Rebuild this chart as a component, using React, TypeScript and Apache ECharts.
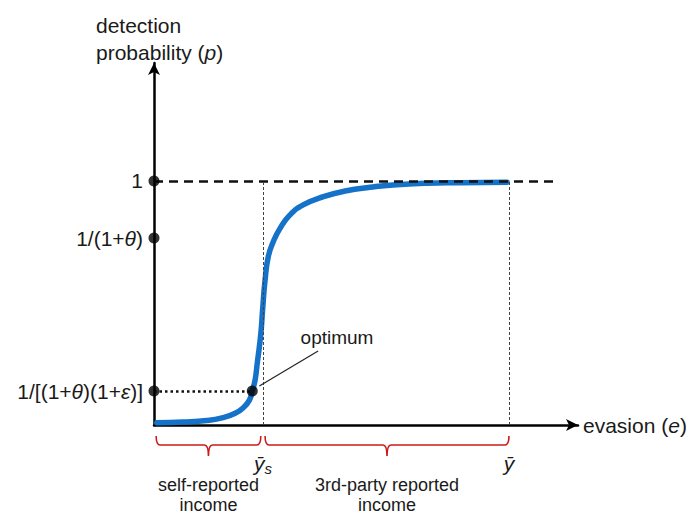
import React, { useEffect, useRef } from "react";
import * as echarts from "echarts";

// ---- data ----
const curveE = [0.08, 0.81, 1.48, 1.94, 2.28, 2.51, 2.68, 2.76, 2.84, 2.9, 2.96, 3.01, 3.05, 3.12, 3.21, 3.35, 3.54, 3.82, 4.19, 4.76, 5.41, 6.07, 6.71, 7.67, 8.6, 9.92];
const curveP = [0.009, 0.012, 0.018, 0.03, 0.048, 0.071, 0.102, 0.139, 0.184, 0.253, 0.321, 0.389, 0.471, 0.594, 0.69, 0.751, 0.806, 0.861, 0.902, 0.936, 0.96, 0.974, 0.984, 0.991, 0.993, 0.995];

const yTickValues = [0.139, 0.766, 1];
const yTickLabels = ["1/[(1+{i|θ})(1+{i|ε})]", "1/(1+{i|θ})", "1"];

const xTickValues = [3.06, 9.97];
const xTickLabels = ["{i|ȳ}{s|s}", "{i|ȳ}"];

const dotE = [0, 0, 0, 2.76];
const dotP = [1, 0.766, 0.139, 0.139];

const braceFrom = [0.06, 3.12];
const braceTo = [3.0, 9.97];
const braceLabels = ["self-reported\nincome", "3rd-party reported\nincome"];

const optimumPoint = [2.76, 0.139];
const leaderFrom = [2.96, 0.16];
const leaderTo = [4.61, 0.303];
const optimumLabelPos = [5.14, 0.36];

const ceilingEnd = 11.26;
const xMax = 11.91;
const yMax = 1.4836;

const FONT = '"Liberation Sans", Arial, sans-serif';
const TXT = "#1a1a1a";

export default function App() {
  const ref = useRef<HTMLDivElement>(null);
  useEffect(() => {
    if (!ref.current) return;
    const chart = echarts.init(ref.current, null, { renderer: "svg" });
    const near = (arr: number[], v: number) => arr.findIndex((a) => Math.abs(a - v) < 1e-6);

    chart.setOption({
      animation: false,
      backgroundColor: "#fff",
      textStyle: { fontFamily: FONT },
      title: {
        text: "detection\nprobability ({i|p})",
        left: 91,
        top: 7,
        textStyle: {
          fontFamily: FONT,
          fontSize: 21,
          fontWeight: "normal",
          color: TXT,
          lineHeight: 27,
          rich: { i: { fontStyle: "italic", fontSize: 21, fontFamily: FONT, color: TXT } },
        },
      },
      grid: { left: 154, right: 693 - 578, top: 63, bottom: 516 - 425, containLabel: false },
      xAxis: {
        type: "value",
        min: 0,
        max: xMax,
        splitLine: { show: false },
        axisTick: { show: false },
        axisLine: {
          onZero: false,
          lineStyle: { color: "#000", width: 2.5 },
          symbol: ["none", "arrow"],
          symbolSize: [9, 12],
        },
        axisLabel: {
          customValues: xTickValues,
          margin: 25,
          color: TXT,
          formatter: (v: number) => xTickLabels[near(xTickValues, v)] ?? "",
          rich: {
            i: { fontStyle: "italic", fontSize: 21, fontFamily: FONT, color: TXT, lineHeight: 26 },
            s: { fontStyle: "italic", fontSize: 15, fontFamily: FONT, color: TXT, verticalAlign: "bottom", lineHeight: 26 },
          },
        },
        name: "evasion ({i|e})",
        nameLocation: "end",
        nameGap: 5,
        nameTextStyle: {
          fontSize: 21,
          fontFamily: FONT,
          color: TXT,
          rich: { i: { fontStyle: "italic", fontSize: 21, fontFamily: FONT, color: TXT } },
        },
      },
      yAxis: {
        type: "value",
        min: 0,
        max: yMax,
        splitLine: { show: false },
        axisTick: { show: false },
        axisLine: {
          onZero: false,
          lineStyle: { color: "#000", width: 2.5 },
          symbol: ["none", "arrow"],
          symbolSize: [9, 12],
        },
        axisLabel: {
          customValues: yTickValues,
          margin: 11,
          fontSize: 21,
          color: TXT,
          fontFamily: FONT,
          formatter: (v: number) => yTickLabels[near(yTickValues, v)] ?? "",
          rich: { i: { fontStyle: "italic", fontSize: 21, fontFamily: FONT, color: TXT } },
        },
      },
      series: [
        {
          type: "line",
          name: "guides",
          data: [],
          silent: true,
          markLine: {
            silent: true,
            symbol: ["none", "none"],
            label: { show: false },
            data: [
              [
                { coord: [0, 1], lineStyle: { color: "#111", width: 2.5, type: [9, 6] } },
                { coord: [ceilingEnd, 1] },
              ],
              [
                { coord: [xTickValues[0], 0], lineStyle: { color: "#444", width: 1, type: [3, 2] } },
                { coord: [xTickValues[0], 1] },
              ],
              [
                { coord: [xTickValues[1], 0], lineStyle: { color: "#444", width: 1, type: [3, 2] } },
                { coord: [xTickValues[1], 1] },
              ],
              [
                { coord: [0, optimumPoint[1]], lineStyle: { color: "#111", width: 2.5, type: [2.5, 3] } },
                { coord: optimumPoint },
              ],
              [
                { coord: leaderFrom, lineStyle: { color: "#222", width: 1.2, type: "solid" } },
                { coord: leaderTo },
              ],
            ],
          },
        },
        {
          type: "line",
          name: "curve",
          data: curveE.map((e, i) => [e, curveP[i]]),
          showSymbol: false,
          smooth: 0.5,
          lineStyle: { color: "#1472c8", width: 5.5, cap: "round", join: "round" },
          z: 3,
        },
        {
          type: "scatter",
          name: "points",
          data: dotE.map((e, i) => [e, dotP[i]]),
          symbolSize: 11,
          itemStyle: { color: "#000" },
          clip: false,
          z: 5,
          markPoint: {
            symbol: "circle",
            symbolSize: 1,
            itemStyle: { color: "rgba(0,0,0,0)" },
            label: {
              show: true,
              position: "inside",
              formatter: "optimum",
              fontSize: 19,
              fontFamily: FONT,
              color: TXT,
            },
            data: [{ coord: optimumLabelPos }],
          },
        },
        {
          type: "custom",
          name: "braces",
          clip: false,
          encode: { x: [0, 1], y: 2 },
          data: braceFrom.map((f, i) => [f, braceTo[i], 0]),
          renderItem: (params: any, api: any) => {
            const p0 = api.coord([api.value(0), 0]);
            const p1 = api.coord([api.value(1), 0]);
            const y = p0[1];
            const a = p0[0];
            const b = p1[0];
            const c = (a + b) / 2;
            const top = y + 11;
            const mid = y + 20;
            const bot = y + 31;
            const r = 4;
            const d =
              `M${a},${top} Q${a},${mid} ${a + r},${mid} L${c - r},${mid} Q${c},${mid} ${c},${bot} ` +
              `M${c},${bot} Q${c},${mid} ${c + r},${mid} L${b - r},${mid} Q${b},${mid} ${b},${top}`;
            return {
              type: "group",
              children: [
                {
                  type: "path",
                  shape: { pathData: d },
                  style: { fill: "none", stroke: "#cc1a1a", lineWidth: 1.6 },
                },
                {
                  type: "text",
                  x: c,
                  y: y + 50,
                  style: {
                    text: braceLabels[params.dataIndex],
                    align: "center",
                    verticalAlign: "top",
                    fontSize: 18,
                    fontFamily: FONT,
                    lineHeight: 20,
                    fill: TXT,
                  },
                },
              ],
            };
          },
        },
      ],
    });
    return () => chart.dispose();
  }, []);
  return <div ref={ref} style={{ position: "fixed", left: 0, top: 0, width: 693, height: 516 }} />;
}
